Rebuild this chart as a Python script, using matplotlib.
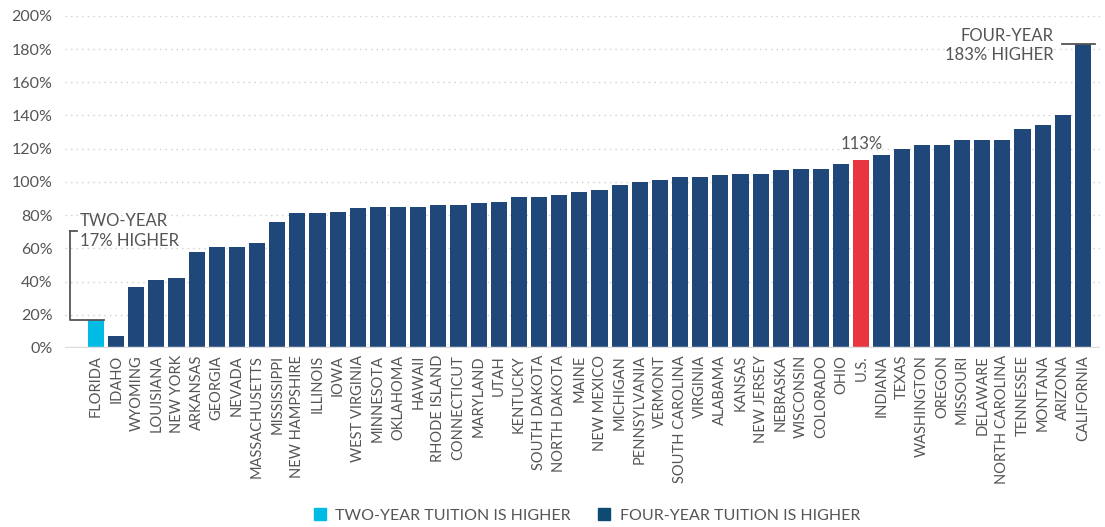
import matplotlib
matplotlib.use("Agg")
import matplotlib.pyplot as plt
from matplotlib.patches import Patch
import numpy as np

plt.rcParams['font.family'] = ['Lato', 'DejaVu Sans']

# percent difference between two-year and four-year tuition, sorted
states = ["FLORIDA", "IDAHO", "WYOMING", "LOUISIANA", "NEW YORK", "ARKANSAS",
          "GEORGIA", "NEVADA", "MASSACHUSETTS", "MISSISSIPPI", "NEW HAMPSHIRE",
          "ILLINOIS", "IOWA", "WEST VIRGINIA", "MINNESOTA", "OKLAHOMA", "HAWAII",
          "RHODE ISLAND", "CONNECTICUT", "MARYLAND", "UTAH", "KENTUCKY",
          "SOUTH DAKOTA", "NORTH DAKOTA", "MAINE", "NEW MEXICO", "MICHIGAN",
          "PENNSYLVANIA", "VERMONT", "SOUTH CAROLINA", "VIRGINIA", "ALABAMA",
          "KANSAS", "NEW JERSEY", "NEBRASKA", "WISCONSIN", "COLORADO", "OHIO",
          "U.S.", "INDIANA", "TEXAS", "WASHINGTON", "OREGON", "MISSOURI",
          "DELAWARE", "NORTH CAROLINA", "TENNESSEE", "MONTANA", "ARIZONA",
          "CALIFORNIA"]
values = [17, 7, 37, 41, 42, 58, 61, 61, 63, 76, 81, 81, 82, 84, 85, 85, 85,
          86, 86, 87, 88, 91, 91, 92, 94, 95, 98, 100, 101, 103, 103, 104, 105,
          105, 107, 108, 108, 111, 113, 116, 120, 122, 122, 125, 125, 125, 132,
          134, 140, 183]
two_year_higher = ["FLORIDA"]
highlight = "U.S."

cyan = "#00bce4"
navy = "#1f477a"
red = "#e8353f"
grey = "#555555"

colors = []
for s in states:
    if s in two_year_higher:
        colors.append(cyan)
    elif s == highlight:
        colors.append(red)
    else:
        colors.append(navy)

fig = plt.figure(figsize=(11.05, 5.27), dpi=100)
ax = fig.add_axes([0.0588, 0.3397, 0.9367, 0.6303])

x = np.arange(len(states))
ax.bar(x, values, width=0.8, color=colors, zorder=3)

ax.set_xlim(-1.54, 49.85)
ax.set_ylim(0, 200)
ax.set_yticks(range(0, 201, 20))
ax.set_yticklabels([f"{v}%" for v in range(0, 201, 20)])
ax.set_xticks(x)
ax.set_xticklabels(states, rotation=90, va="top", ha="center")

ax.tick_params(axis="y", length=0, pad=9, labelsize=11.5, labelcolor=grey)
ax.tick_params(axis="x", length=0, pad=5, labelsize=10.5, labelcolor=grey)

for sp in ax.spines.values():
    sp.set_visible(False)
ax.grid(axis="y", color="#cfcfcf", linestyle=(0, (1, 3)), linewidth=1, zorder=0)
ax.axhline(0, color="#dddddd", linewidth=2.5, zorder=4)

# U.S. label
us = states.index(highlight)
ax.text(us, values[us] + 5, f"{values[us]}%", ha="center", va="bottom",
        fontsize=12, color=grey)

# two-year bracket
fl = states.index("FLORIDA")
ax.plot([fl - 1.3, fl - 1.3, fl + 0.4], [70.5, values[fl], values[fl]],
        color=grey, linewidth=1.3, zorder=5, clip_on=False)
ax.plot([fl - 1.3, fl - 0.95], [70.5, 70.5], color=grey, linewidth=1.3,
        zorder=5, clip_on=False)
ax.text(fl - 0.8, 70.5, "TWO-YEAR\n" + f"{values[fl]}% HIGHER", ha="left",
        va="center", fontsize=12, color=grey, linespacing=1.25)

# four-year label
ca = states.index("CALIFORNIA")
ax.plot([ca - 1.05, ca + 0.6], [values[ca], values[ca]], color=grey,
        linewidth=1.3, zorder=5, clip_on=False)
ax.text(ca - 1.45, values[ca] - 1, "FOUR-YEAR\n" + f"{values[ca]}% HIGHER",
        ha="right", va="center", fontsize=12, color=grey, linespacing=1.25)

handles = [Patch(color=cyan, label="TWO-YEAR TUITION IS HIGHER"),
           Patch(color="#0f4a73", label="FOUR-YEAR TUITION IS HIGHER")]
fig.legend(handles=handles, loc="center", bbox_to_anchor=(0.531, 0.022),
           ncol=2, frameon=False, handlelength=0.75,
           handleheight=0.75, handletextpad=0.6, columnspacing=1.7,
           labelcolor=grey, prop={"size": 11.5})

fig.savefig("out.png", dpi=100)
